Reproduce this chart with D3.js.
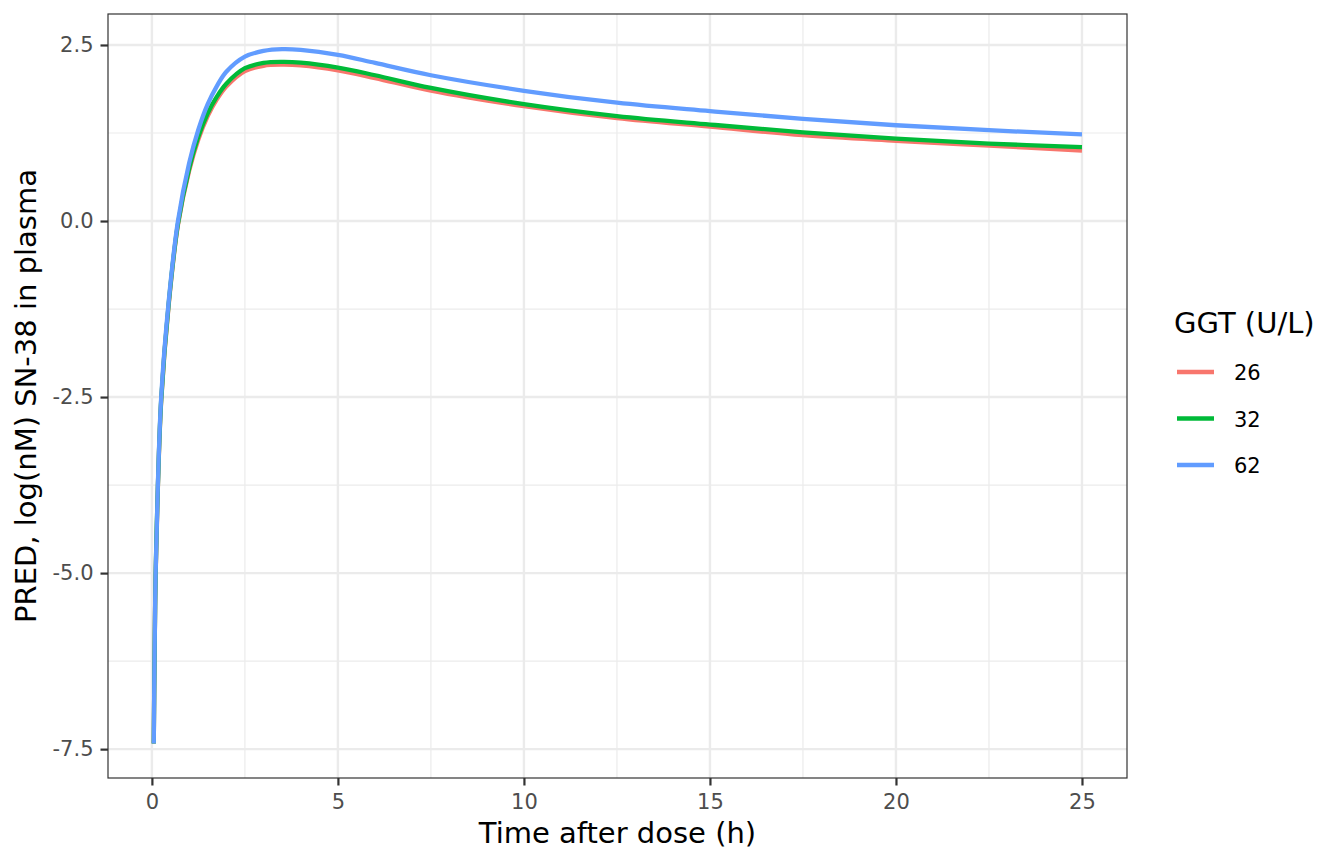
<!DOCTYPE html>
<html lang="en">
<head>
    <meta charset="UTF-8"/>
    <title>PRED SN-38 by GGT</title>
    <script src="https://d3js.org/d3.v7.min.js"></script>
    <style>
        body { margin: 0; background: #fff; }
        text { font-family: "DejaVu Sans", sans-serif; }
    </style>
</head>
<body>
<script>
    // data
    var time = [0.05, 0.07, 0.1, 0.16, 0.25, 0.45, 0.7, 1, 1.25, 1.5, 1.75, 2, 2.5, 3, 3.5, 4, 5, 6, 7.5, 10, 12.5, 15, 17.5, 20, 22.5, 25];
    var ggt26 = [-7.42, -6.28, -5.04, -3.8, -2.56, -1.2, -0.06, 0.71, 1.16, 1.49, 1.73, 1.91, 2.13, 2.205, 2.22, 2.21, 2.14, 2.03, 1.85, 1.63, 1.46, 1.34, 1.22, 1.14, 1.07, 1.00];
    var ggt32 = [-7.42, -6.27, -5.03, -3.78, -2.54, -1.18, -0.04, 0.74, 1.2, 1.53, 1.77, 1.95, 2.17, 2.245, 2.26, 2.25, 2.18, 2.07, 1.89, 1.66, 1.49, 1.37, 1.26, 1.17, 1.10, 1.05];
    var ggt62 = [-7.42, -6.25, -5.0, -3.75, -2.5, -1.15, 0.0, 0.82, 1.3, 1.66, 1.92, 2.12, 2.335, 2.415, 2.44, 2.43, 2.36, 2.245, 2.07, 1.85, 1.68, 1.56, 1.45, 1.36, 1.29, 1.23];
    var groups = ["26", "32", "62"];
    var xTicks = [0, 5, 10, 15, 20, 25];
    var yTicks = [2.5, 0, -2.5, -5, -7.5];

    var series = [ggt26, ggt32, ggt62];
    var colors = ["#F8766D", "#00BA38", "#619CFF"];

    var w = 1344, h = 864;
    // panel edges (top is a reserved window name, so p-prefixed)
    var pLeft = 108, pRight = 1127, pTop = 14, pBottom = 778;

    var xScale = d3.scaleLinear().domain([-1.18, 26.21]).range([pLeft, pRight]);
    var yScale = d3.scaleLinear().domain([-7.91, 2.94]).range([pBottom, pTop]);

    var svg = d3.select("body").append("svg")
                .attr("width", w)
                .attr("height", h);

    svg.append("rect").attr("width", w).attr("height", h).attr("fill", "#fff");

    // minor grid
    var xMinor = xTicks.map(function(d){ return d + 2.5; }).filter(function(d){ return d < 26.2; });
    var yMinor = [1.25, -1.25, -3.75, -6.25];
    svg.selectAll(".xminor").data(xMinor).enter().append("line")
        .attr("x1", function(d){ return xScale(d); }).attr("x2", function(d){ return xScale(d); })
        .attr("y1", pTop).attr("y2", pBottom)
        .attr("stroke", "#EBEBEB").attr("stroke-width", 1.2);
    svg.selectAll(".yminor").data(yMinor).enter().append("line")
        .attr("y1", function(d){ return yScale(d); }).attr("y2", function(d){ return yScale(d); })
        .attr("x1", pLeft).attr("x2", pRight)
        .attr("stroke", "#EBEBEB").attr("stroke-width", 1.2);

    // major grid
    svg.selectAll(".xmajor").data(xTicks).enter().append("line")
        .attr("x1", function(d){ return xScale(d); }).attr("x2", function(d){ return xScale(d); })
        .attr("y1", pTop).attr("y2", pBottom)
        .attr("stroke", "#EBEBEB").attr("stroke-width", 2.4);
    svg.selectAll(".ymajor").data(yTicks).enter().append("line")
        .attr("y1", function(d){ return yScale(d); }).attr("y2", function(d){ return yScale(d); })
        .attr("x1", pLeft).attr("x2", pRight)
        .attr("stroke", "#EBEBEB").attr("stroke-width", 2.4);

    // curves
    var line = d3.line()
                 .x(function(d){ return xScale(d[0]); })
                 .y(function(d){ return yScale(d[1]); })
                 .curve(d3.curveCatmullRom.alpha(0.5));

    series.forEach(function(s, i){
        svg.append("path")
           .datum(time.map(function(t, j){ return [t, s[j]]; }))
           .attr("fill", "none")
           .attr("stroke", colors[i])
           .attr("stroke-width", 4.3)
           .attr("stroke-linejoin", "round")
           .attr("d", line);
    });

    // panel border
    svg.append("rect")
       .attr("x", pLeft).attr("y", pTop)
       .attr("width", pRight - pLeft).attr("height", pBottom - pTop)
       .attr("fill", "none").attr("stroke", "#333333").attr("stroke-width", 1.2);

    // axes, with a plain hyphen for negatives like R prints
    var f1 = d3.format(".1f");
    var xAxis = d3.axisBottom(xScale).tickValues(xTicks).tickSize(7.5).tickPadding(6)
                  .tickFormat(d3.format("d"));
    var gx = svg.append("g").attr("transform", "translate(0," + pBottom + ")").call(xAxis);
    var yAxis = d3.axisLeft(yScale).tickValues(yTicks).tickSize(7.5).tickPadding(7)
                  .tickFormat(function(d){ return f1(d).replace("\u2212", "-"); });
    var gy = svg.append("g").attr("transform", "translate(" + pLeft + ",0)").call(yAxis);

    [gx, gy].forEach(function(g){
        g.select(".domain").remove();
        g.selectAll(".tick line").attr("stroke", "#333333").attr("stroke-width", 2.2);
        g.selectAll(".tick text").attr("fill", "#4D4D4D")
         .style("font-size", "21px").style("font-family", "DejaVu Sans, sans-serif");
    });
    gx.selectAll(".tick text").attr("y", 31).attr("dy", 0);

    // axis titles
    svg.append("text")
       .attr("x", (pLeft + pRight) / 2).attr("y", 843)
       .attr("text-anchor", "middle")
       .style("font-size", "29px")
       .text("Time after dose (h)");

    svg.append("text")
       .attr("transform", "translate(36," + ((pTop + pBottom) / 2) + ") rotate(-90)")
       .attr("text-anchor", "middle")
       .style("font-size", "29px")
       .text("PRED, log(nM) SN-38 in plasma");

    // legend
    svg.append("text")
       .attr("x", 1174).attr("y", 333)
       .style("font-size", "29px")
       .text("GGT (U/L)");

    var legend = svg.selectAll(".key").data(groups).enter().append("g")
                    .attr("transform", function(d, i){ return "translate(1177," + (372 + i * 46.5) + ")"; });
    legend.append("line")
          .attr("x1", 0).attr("x2", 37).attr("y1", 0).attr("y2", 0)
          .attr("stroke", function(d, i){ return colors[i]; })
          .attr("stroke-width", 4.5);
    legend.append("text")
          .attr("x", 57).attr("y", 8)
          .style("font-size", "21px")
          .text(function(d){ return d; });
</script>
</body>
</html>
